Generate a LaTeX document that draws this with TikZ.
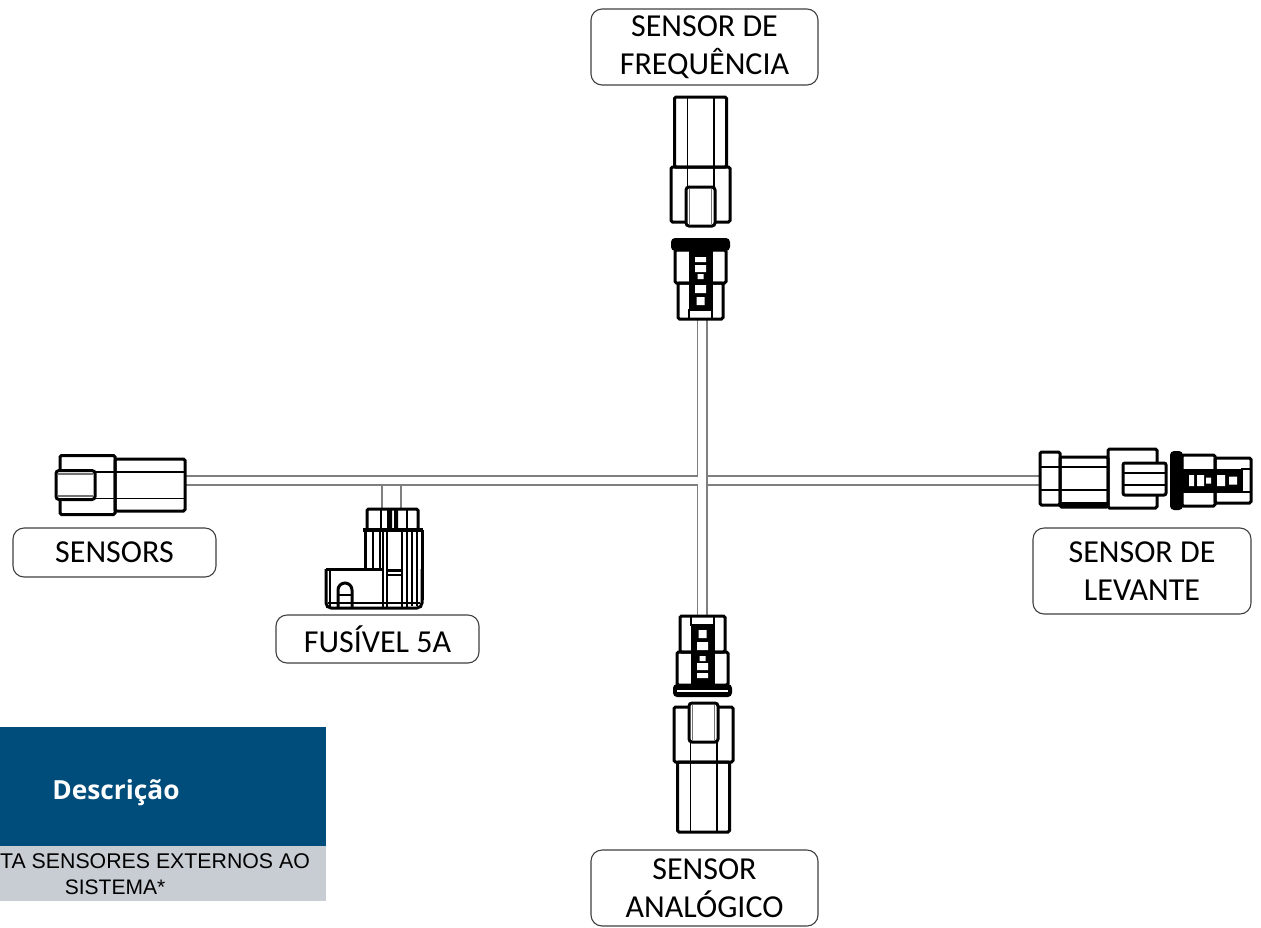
\documentclass[tikz,border=0pt]{standalone}
\usepackage{fontspec}
\setmainfont{Carlito}
\newfontfamily\headfont{Open Sans}
\newfontfamily\cellfont{Liberation Sans}
\definecolor{descblue}{HTML}{004C7A}
\definecolor{descgray}{HTML}{C8CCD3}
\definecolor{wiregray}{HTML}{7F7F7F}
\tikzset{
  wire/.style={draw=wiregray,double=white,double distance=7.6pt,line width=1.7pt},
  fusewire/.style={draw=wiregray,line width=1.1pt},
  heavy/.style={draw=black,line width=3pt,rounded corners=1.5pt},
  fine/.style={draw=black,line width=1.7pt},
  label box/.style={draw=black!75,line width=1.1pt,rounded corners=11pt,fill=white,align=center,
    inner sep=0pt,font=\fontsize{32}{38.5}\selectfont},
  pics/bigplug/.style={code={
    \draw[heavy] (-26,0) rectangle (26,70);
    \draw[fine] (-13,0) -- (-13,90) (13.5,0) -- (13.5,90);
    \draw[heavy] (-29.5,70) rectangle (29.5,125);
    \draw[fine] (-13,70) -- (-13,90) (13.5,70) -- (13.5,90);
    \draw[heavy,fill=white,rounded corners=3pt] (-14.5,90) rectangle (14.5,129);
    \draw[fine,black!55] (-11,92) -- (-11,127) (11,92) -- (11,127);
  }},
  pics/smallplug/.style={code={
    \draw[heavy] (-22.5,0) rectangle (22.5,36);
    \draw[heavy] (-25.5,36) rectangle (25.5,69);
    \fill[black,rounded corners=4pt] (-29.5,68) rectangle (29.5,81);
    \fill[black] (-12,9) rectangle (12,69);
    \draw[fine] (-11.5,0) -- (-11.5,9) -- (11.5,9) -- (11.5,0);
    \fill[white] (-4,14) rectangle (4,22) (-5.5,26) rectangle (5.5,34)
      (-3,40) rectangle (3,45) (-5.5,47) rectangle (5.5,54) (-5.5,57) rectangle (5.5,62);
  }},
}
\begin{document}
\begin{tikzpicture}[x=1pt,y=-1pt]
  \useasboundingbox (0,0) rectangle (1261,927);

  \coordinate (hubL) at (697,480.5);
  \coordinate (hubR) at (707.8,480.5);
  \coordinate (freqEnd) at (702,319);
  \coordinate (analogEnd) at (702,616);
  \coordinate (sensorsEnd) at (185,480.5);
  \coordinate (levanteEnd) at (1040,480.5);
  \coordinate (fuseTopA) at (382,485);
  \coordinate (fuseTopB) at (401,485);
  \coordinate (fuseInA) at (382,509);
  \coordinate (fuseInB) at (401,509);

  % cables
  \draw[wire] (freqEnd) -- (analogEnd);
  \draw[wire] (sensorsEnd) -- (hubL);
  \draw[wire] (hubR) -- (levanteEnd);
  \fill[white] (696,477) rectangle (700,484);
  \draw[fusewire] (fuseTopA) -- (fuseInA);
  \draw[fusewire] (fuseTopB) -- (fuseInB);

  % top connectors
  \pic (freqPlug) at (700.5,97) {bigplug};
  \pic[yscale=-1] (freqSocket) at (700.5,319) {smallplug};

  % bottom connectors
  \pic[yscale=-1] (analogPlug) at (703.5,832) {bigplug};
  \pic (analogSocket) at (702.5,616) {smallplug};
  \fill[white] (677,689.5) rectangle (728,691.5);

  % left connector
  \pic[rotate=-90] (sensorsPlug) at (185,485) {bigplug};

  % right connector
  \draw[heavy] (1040,452) rectangle (1060,505);
  \draw[fine] (1040,467) -- (1108,467) (1040,490) -- (1108,490);
  \draw[heavy] (1060,457) rectangle (1108,507);
  \draw[heavy] (1108,449) rectangle (1157,508);
  \fill[black] (1060,502) rectangle (1108,508);
  \draw[heavy,fill=white,rounded corners=2pt] (1123,463) rectangle (1166,495);
  \draw[fine] (1123,473) -- (1166,473) (1123,485) -- (1166,485);
  \pic[rotate=-90] (levanteSocket) at (1251,480.5) {smallplug};

  % fuse
  \draw[heavy] (367,509) rectangle (418,530);
  \fill[black] (387,510) rectangle (392,530) (394,510) rectangle (398,530);
  \draw[fine] (381,509) -- (381,530) (407,509) -- (407,530);
  \draw[heavy] (365,530) -- (365,569) (422,530) -- (422,600);
  \draw[line width=3.4pt] (363,530) -- (423,530);
  \draw[heavy,rounded corners=5pt] (326,569) -- (326,608) -- (422,608) -- (422,569);
  \draw[heavy] (326,569) -- (383,569);
  \draw[fine] (330,569) -- (330,608) (328,603) -- (420,603);
  \draw[fine] (373,530) -- (373,569) (380,530) -- (380,569);
  \draw[fine] (412,530) -- (412,606) (417,530) -- (417,606);
  \draw[line width=2.8pt] (383,530) -- (383,607) (387,530) -- (387,607);
  \draw[line width=2.8pt] (402,530) -- (402,607) (407,530) -- (407,607);
  \draw[heavy] (387,570) -- (402,570);
  \draw[fine] (387,575) -- (402,575);
  \draw[heavy,rounded corners=0pt] (338,608) -- (338,590) arc[start angle=180,end angle=360,radius=7] -- (352,608);
  \draw[fine] (338,595) -- (352,595);

  % labels
  \node[label box,minimum width=227pt,minimum height=76pt] (freqLabel) at (704.5,47) {SENSOR DE\\FREQUÊNCIA};
  \node[label box,minimum width=203pt,minimum height=49pt] (sensorsLabel) at (114.5,552.5) {SENSORS};
  \node[label box,minimum width=203pt,minimum height=48pt] (fuseLabel) at (377.5,639) {FUSÍVEL 5A};
  \node[label box,minimum width=218pt,minimum height=86pt] (levanteLabel) at (1142,571) {SENSOR DE\\LEVANTE};
  \node[label box,minimum width=227pt,minimum height=76pt] (analogLabel) at (704.5,888) {SENSOR\\ANALÓGICO};

  % table
  \fill[descblue] (0,727) rectangle (326,846);
  \fill[descgray] (0,846) rectangle (326,901);
  \node[text=white,inner sep=0pt,font=\headfont\bfseries\fontsize{26.3}{30}\selectfont] (descHead) at (116,792.5) {Descrição};
  \node[anchor=base west,inner sep=0pt,font=\cellfont\fontsize{21.3}{24}\selectfont] (descLineA) at (0,868) {TA SENSORES EXTERNOS AO};
  \node[anchor=base,inner sep=0pt,font=\cellfont\fontsize{21}{24}\selectfont] (descLineB) at (115,894) {SISTEMA*};
\end{tikzpicture}
\end{document}
